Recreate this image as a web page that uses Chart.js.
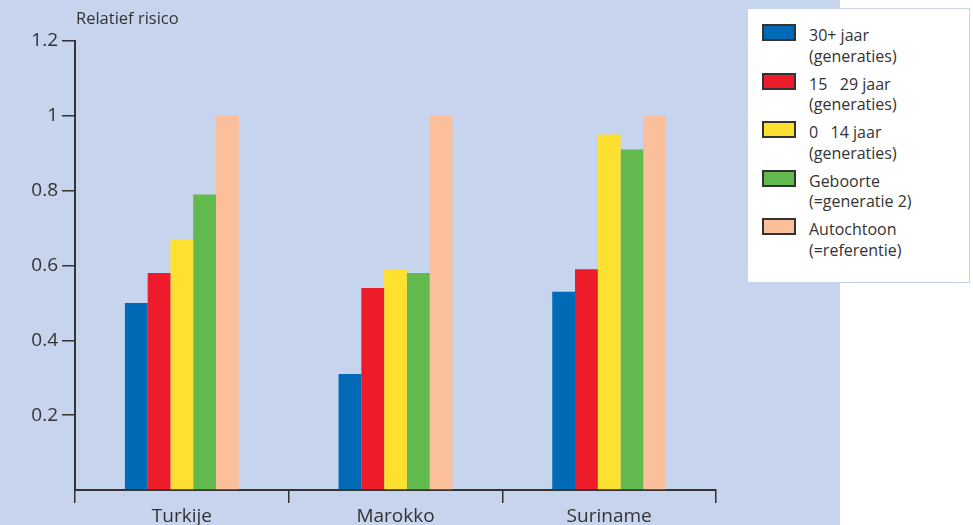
<!DOCTYPE html>
<html>
<head>
<meta charset="utf-8">
<script src="https://cdn.jsdelivr.net/npm/chart.js@4/dist/chart.umd.min.js"></script>
<style>
  body { margin: 0; background: #fff; font-family: "Open Sans", sans-serif; }
  #wrap { position: relative; width: 973px; height: 525px; }
  #plot { position: absolute; left: 0; top: 0; width: 840px; height: 525px; background: #c6d4ed; }
  #legend {
    position: absolute; left: 747px; top: 8px; width: 221px; height: 273px;
    background: #fff; border: 1px solid #c6d4ed;
  }
  .item { position: absolute; left: 14px; }
  .swatch { position: absolute; left: 0; top: 0; width: 30px; height: 13px; border: 2px solid #333; }
  .txt { position: absolute; left: 47px; top: 1px; white-space: pre; font-size: 16px; line-height: 20.5px; color: #333; }
</style>
</head>
<body>
<div id="wrap">
  <div id="plot"><canvas id="myChart" width="840" height="525"></canvas></div>
  <div id="legend"></div>
</div>
<script>
const countries = ["Turkije", "Marokko", "Suriname"];

const seriesNames = [
  ["30+ jaar", "(generaties)"],
  ["15   29 jaar", "(generaties)"],
  ["0   14 jaar", "(generaties)"],
  ["Geboorte", "(=generatie 2)"],
  ["Autochtoon", "(=referentie)"]
];
const seriesColors = ["#006ab7", "#ee1c2b", "#fde030", "#62b94d", "#fcbf9c"];

const age30plus = [0.50, 0.31, 0.53];
const age15to29 = [0.58, 0.54, 0.59];
const age0to14 = [0.67, 0.59, 0.95];
const birth = [0.79, 0.58, 0.91];
const reference = [1.0, 1.0, 1.0];

const yTicks = [0, 0.2, 0.4, 0.6, 0.8, 1, 1.2];

const allValues = [age30plus, age15to29, age0to14, birth, reference];
const textColor = "#333";
const axisColor = "#333";

const datasets = allValues.map((vals, i) => ({
  label: seriesNames[i].join(" "),
  data: vals,
  backgroundColor: seriesColors[i],
  borderWidth: 0,
  barPercentage: 1,
  categoryPercentage: 0.533
}));

// "Relatief risico" above the y axis
const axisTitle = {
  id: "axisTitle",
  afterDraw(chart) {
    const ctx = chart.ctx;
    const area = chart.chartArea;
    ctx.save();
    ctx.font = '16.5px "Open Sans", sans-serif';
    ctx.fillStyle = textColor;
    ctx.textAlign = "left";
    ctx.textBaseline = "middle";
    ctx.fillText("Relatief risico", area.left + 1, area.top - 22);
    ctx.restore();
  }
};

const chart = new Chart(document.getElementById("myChart"), {
  type: "bar",
  data: { labels: countries, datasets: datasets },
  options: {
    responsive: false,
    animation: false,
    layout: { padding: { top: 41, right: 124, left: 0, bottom: 0 } },
    plugins: { legend: { display: false }, tooltip: { enabled: false } },
    scales: {
      x: {
        grid: {
          offset: true,
          drawOnChartArea: false,
          drawTicks: true,
          tickLength: 13,
          color: axisColor,
          lineWidth: 1.5
        },
        border: { display: true, color: axisColor, width: 2 },
        ticks: {
          color: textColor,
          padding: 2,
          font: { family: '"Open Sans", sans-serif', size: 19 }
        },
        afterFit(scale) { scale.height = 35; }
      },
      y: {
        min: 0,
        max: 1.2,
        afterBuildTicks(scale) { scale.ticks = yTicks.map(v => ({ value: v })); },
        grid: {
          drawOnChartArea: false,
          drawTicks: true,
          tickLength: 13,
          lineWidth: 1.5,
          color: (c) => (c.tick && c.tick.value === 0 ? "rgba(0,0,0,0)" : axisColor)
        },
        border: { display: true, color: axisColor, width: 2 },
        ticks: {
          color: textColor,
          padding: 4,
          font: { family: '"Open Sans", sans-serif', size: 19 },
          callback: (v) => (v === 0 ? "" : String(+Number(v).toFixed(1)))
        },
        afterFit(scale) { scale.width = 75; }
      }
    }
  },
  plugins: [axisTitle]
});

// legend box on the right, built from the datasets
const legend = document.getElementById("legend");
chart.data.datasets.forEach((ds, i) => {
  const item = document.createElement("div");
  item.className = "item";
  item.style.top = (15 + i * 48.6) + "px";
  item.innerHTML = `<div class="swatch" style="background:${ds.backgroundColor}"></div>` +
    `<div class="txt">${seriesNames[i].join("\n")}</div>`;
  legend.appendChild(item);
});
</script>
</body>
</html>
